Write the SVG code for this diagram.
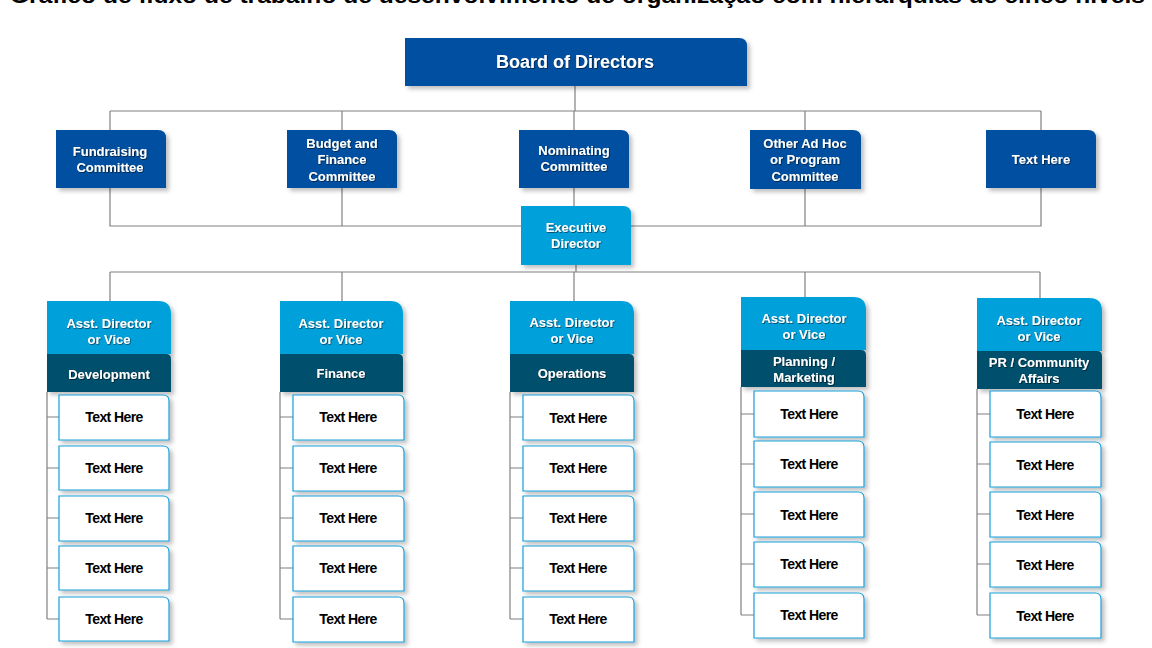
<svg xmlns="http://www.w3.org/2000/svg" width="1152" height="648" viewBox="0 0 1152 648">
<style>
.t{font-family:"Liberation Sans",Arial,sans-serif;font-weight:bold;text-anchor:middle}
.w{fill:#fff;font-size:13px}
.hd{fill:#fff;font-size:18px}
.k{fill:#000;font-size:14px;letter-spacing:-0.6px}
.title{font-family:"Liberation Sans",Arial,sans-serif;font-weight:bold;font-size:22px;fill:#000}
.dk{fill:#0050A0}
.lt{fill:#05A0DB}
.tl{fill:#02506D}
.bx{fill:#fff;stroke:#1AA0DC;stroke-width:1.2}
.c{stroke:#808080;stroke-width:1.2;fill:none}
</style>
<defs>
<filter id="sh" x="-10%" y="-10%" width="125%" height="130%">
<feDropShadow dx="3" dy="3" stdDeviation="2" flood-color="#000" flood-opacity="0.25"/>
</filter>
<filter id="ts" x="-10%" y="-20%" width="120%" height="140%">
<feDropShadow dx="0.7" dy="0.7" stdDeviation="0.4" flood-color="#000" flood-opacity="0.7"/>
</filter>
</defs>
<rect width="1152" height="648" fill="#fff"/>
<text class="title" x="10" y="3" textLength="1135" lengthAdjust="spacingAndGlyphs">Gráfico de fluxo de trabalho de desenvolvimento de organização com hierarquias de cinco níveis</text>

<g id="connectors" class="c">
<path d="M575,86 V111 M110,111 H1041 M110,111 V130 M342,111 V130 M574,111 V130 M805,111 V130 M1041,111 V130"/>
<path d="M110,188 V226 H1041 V188 M342,188 V226 M574,188 V206 M805,189 V226"/>
<path d="M576,265 V272 M110,272 H1040 M110,272 V301 M342,272 V301 M574,272 V301 M805,272 V297 M1040,272 V298"/>
<path d="M47,392 V619 M47,417 H59 M47,468 H59 M47,518 H59 M47,568 H59 M47,619 H59"/>
<path d="M280,392 V619 M280,417 H293 M280,468 H293 M280,518 H293 M280,568 H293 M280,619 H293"/>
<path d="M510,392 V619 M510,417 H523 M510,468 H523 M510,518 H523 M510,568 H523 M510,619 H523"/>
<path d="M741,387 V615 M741,414 H754 M741,464 H754 M741,514 H754 M741,564 H754 M741,615 H754"/>
<path d="M977,389 V615 M977,414 H990 M977,464 H990 M977,514 H990 M977,564 H990 M977,615 H990"/>
</g>

<g id="board" filter="url(#sh)"><path class="dk" d="M405,38 H739 Q747,38 747,46 V86 H405Z"/></g>
<text class="t hd" x="575" y="68" filter="url(#ts)">Board of Directors</text>

<g id="fundraising"><path class="dk" filter="url(#sh)" d="M56,130 H158 Q166,130 166,138 V188 H56Z"/>
<text class="t w" x="110" y="156" filter="url(#ts)">Fundraising</text><text class="t w" x="110" y="172" filter="url(#ts)">Committee</text></g>
<g id="budget"><path class="dk" filter="url(#sh)" d="M287,130 H389 Q397,130 397,138 V188 H287Z"/>
<text class="t w" x="342" y="148" filter="url(#ts)">Budget and</text><text class="t w" x="342" y="164" filter="url(#ts)">Finance</text><text class="t w" x="342" y="181" filter="url(#ts)">Committee</text></g>
<g id="nominating"><path class="dk" filter="url(#sh)" d="M519,130 H621 Q629,130 629,138 V188 H519Z"/>
<text class="t w" x="574" y="155" filter="url(#ts)">Nominating</text><text class="t w" x="574" y="171" filter="url(#ts)">Committee</text></g>
<g id="adhoc"><path class="dk" filter="url(#sh)" d="M750,130 H853 Q861,130 861,138 V189 H750Z"/>
<text class="t w" x="805" y="148" filter="url(#ts)">Other Ad Hoc</text><text class="t w" x="805" y="164" filter="url(#ts)">or Program</text><text class="t w" x="805" y="181" filter="url(#ts)">Committee</text></g>
<g id="committee5"><path class="dk" filter="url(#sh)" d="M986,130 H1088 Q1096,130 1096,138 V188 H986Z"/>
<text class="t w" x="1041" y="164" filter="url(#ts)">Text Here</text></g>

<g id="executive"><path class="lt" filter="url(#sh)" d="M521,206 H623 Q631,206 631,214 V265 H521Z"/>
<text class="t w" x="576" y="232" filter="url(#ts)">Executive</text><text class="t w" x="576" y="248" filter="url(#ts)">Director</text></g>

<g id="asst1"><g filter="url(#sh)"><path class="lt" d="M47,301 H158 Q171,301 171,314 V354 H47Z"/><path class="tl" d="M47,354 H166 Q171,354 171,359 V392 H47Z"/></g>
<text class="t w" x="109" y="328" filter="url(#ts)">Asst. Director</text><text class="t w" x="109" y="344" filter="url(#ts)">or Vice</text><text class="t w" x="109" y="379" filter="url(#ts)">Development</text></g>
<g id="asst2"><g filter="url(#sh)"><path class="lt" d="M280,301 H390 Q403,301 403,314 V354 H280Z"/><path class="tl" d="M280,354 H398 Q403,354 403,359 V392 H280Z"/></g>
<text class="t w" x="341" y="328" filter="url(#ts)">Asst. Director</text><text class="t w" x="341" y="344" filter="url(#ts)">or Vice</text><text class="t w" x="341" y="378" filter="url(#ts)">Finance</text></g>
<g id="asst3"><g filter="url(#sh)"><path class="lt" d="M510,301 H621 Q634,301 634,314 V354 H510Z"/><path class="tl" d="M510,354 H629 Q634,354 634,359 V392 H510Z"/></g>
<text class="t w" x="572" y="327" filter="url(#ts)">Asst. Director</text><text class="t w" x="572" y="343" filter="url(#ts)">or Vice</text><text class="t w" x="572" y="378" filter="url(#ts)">Operations</text></g>
<g id="asst4"><g filter="url(#sh)"><path class="lt" d="M741,297 H853 Q866,297 866,310 V350 H741Z"/><path class="tl" d="M741,350 H861 Q866,350 866,355 V387 H741Z"/></g>
<text class="t w" x="804" y="323" filter="url(#ts)">Asst. Director</text><text class="t w" x="804" y="339" filter="url(#ts)">or Vice</text><text class="t w" x="804" y="366" filter="url(#ts)">Planning /</text><text class="t w" x="804" y="382" filter="url(#ts)">Marketing</text></g>
<g id="asst5"><g filter="url(#sh)"><path class="lt" d="M977,298 H1089 Q1102,298 1102,311 V351 H977Z"/><path class="tl" d="M977,351 H1097 Q1102,351 1102,356 V389 H977Z"/></g>
<text class="t w" x="1039" y="325" filter="url(#ts)">Asst. Director</text><text class="t w" x="1039" y="341" filter="url(#ts)">or Vice</text><text class="t w" x="1039" y="367" filter="url(#ts)">PR / Community</text><text class="t w" x="1039" y="383" filter="url(#ts)">Affairs</text></g>

<g id="col1-items">
<g id="c1i1"><path class="bx" filter="url(#sh)" d="M59,395 H163 Q169,395 169,401 V440 H59Z"/><text class="t k" x="114" y="422">Text Here</text></g>
<g id="c1i2"><path class="bx" filter="url(#sh)" d="M59,446 H163 Q169,446 169,452 V490 H59Z"/><text class="t k" x="114" y="473">Text Here</text></g>
<g id="c1i3"><path class="bx" filter="url(#sh)" d="M59,496 H163 Q169,496 169,502 V541 H59Z"/><text class="t k" x="114" y="523">Text Here</text></g>
<g id="c1i4"><path class="bx" filter="url(#sh)" d="M59,546 H163 Q169,546 169,552 V590 H59Z"/><text class="t k" x="114" y="573">Text Here</text></g>
<g id="c1i5"><path class="bx" filter="url(#sh)" d="M59,597 H163 Q169,597 169,603 V641 H59Z"/><text class="t k" x="114" y="624">Text Here</text></g>
</g>
<g id="col2-items">
<g id="c2i1"><path class="bx" filter="url(#sh)" d="M293,395 H398 Q404,395 404,401 V440 H293Z"/><text class="t k" x="348" y="422">Text Here</text></g>
<g id="c2i2"><path class="bx" filter="url(#sh)" d="M293,446 H398 Q404,446 404,452 V491 H293Z"/><text class="t k" x="348" y="473">Text Here</text></g>
<g id="c2i3"><path class="bx" filter="url(#sh)" d="M293,496 H398 Q404,496 404,502 V541 H293Z"/><text class="t k" x="348" y="523">Text Here</text></g>
<g id="c2i4"><path class="bx" filter="url(#sh)" d="M293,546 H398 Q404,546 404,552 V591 H293Z"/><text class="t k" x="348" y="573">Text Here</text></g>
<g id="c2i5"><path class="bx" filter="url(#sh)" d="M293,597 H398 Q404,597 404,603 V642 H293Z"/><text class="t k" x="348" y="624">Text Here</text></g>
</g>
<g id="col3-items">
<g id="c3i1"><path class="bx" filter="url(#sh)" d="M523,395 H628 Q634,395 634,401 V440 H523Z"/><text class="t k" x="578" y="423">Text Here</text></g>
<g id="c3i2"><path class="bx" filter="url(#sh)" d="M523,446 H628 Q634,446 634,452 V491 H523Z"/><text class="t k" x="578" y="473">Text Here</text></g>
<g id="c3i3"><path class="bx" filter="url(#sh)" d="M523,496 H628 Q634,496 634,502 V541 H523Z"/><text class="t k" x="578" y="523">Text Here</text></g>
<g id="c3i4"><path class="bx" filter="url(#sh)" d="M523,546 H628 Q634,546 634,552 V591 H523Z"/><text class="t k" x="578" y="573">Text Here</text></g>
<g id="c3i5"><path class="bx" filter="url(#sh)" d="M523,597 H628 Q634,597 634,603 V642 H523Z"/><text class="t k" x="578" y="624">Text Here</text></g>
</g>
<g id="col4-items">
<g id="c4i1"><path class="bx" filter="url(#sh)" d="M754,391 H858 Q864,391 864,397 V437 H754Z"/><text class="t k" x="809" y="419">Text Here</text></g>
<g id="c4i2"><path class="bx" filter="url(#sh)" d="M754,441 H858 Q864,441 864,447 V487 H754Z"/><text class="t k" x="809" y="469">Text Here</text></g>
<g id="c4i3"><path class="bx" filter="url(#sh)" d="M754,492 H858 Q864,492 864,498 V537 H754Z"/><text class="t k" x="809" y="520">Text Here</text></g>
<g id="c4i4"><path class="bx" filter="url(#sh)" d="M754,542 H858 Q864,542 864,548 V587 H754Z"/><text class="t k" x="809" y="569">Text Here</text></g>
<g id="c4i5"><path class="bx" filter="url(#sh)" d="M754,593 H858 Q864,593 864,599 V638 H754Z"/><text class="t k" x="809" y="620">Text Here</text></g>
</g>
<g id="col5-items">
<g id="c5i1"><path class="bx" filter="url(#sh)" d="M990,391 H1095 Q1101,391 1101,397 V437 H990Z"/><text class="t k" x="1045" y="419">Text Here</text></g>
<g id="c5i2"><path class="bx" filter="url(#sh)" d="M990,442 H1095 Q1101,442 1101,448 V487 H990Z"/><text class="t k" x="1045" y="470">Text Here</text></g>
<g id="c5i3"><path class="bx" filter="url(#sh)" d="M990,492 H1095 Q1101,492 1101,498 V537 H990Z"/><text class="t k" x="1045" y="520">Text Here</text></g>
<g id="c5i4"><path class="bx" filter="url(#sh)" d="M990,542 H1095 Q1101,542 1101,548 V587 H990Z"/><text class="t k" x="1045" y="570">Text Here</text></g>
<g id="c5i5"><path class="bx" filter="url(#sh)" d="M990,593 H1095 Q1101,593 1101,599 V638 H990Z"/><text class="t k" x="1045" y="621">Text Here</text></g>
</g>
</svg>
